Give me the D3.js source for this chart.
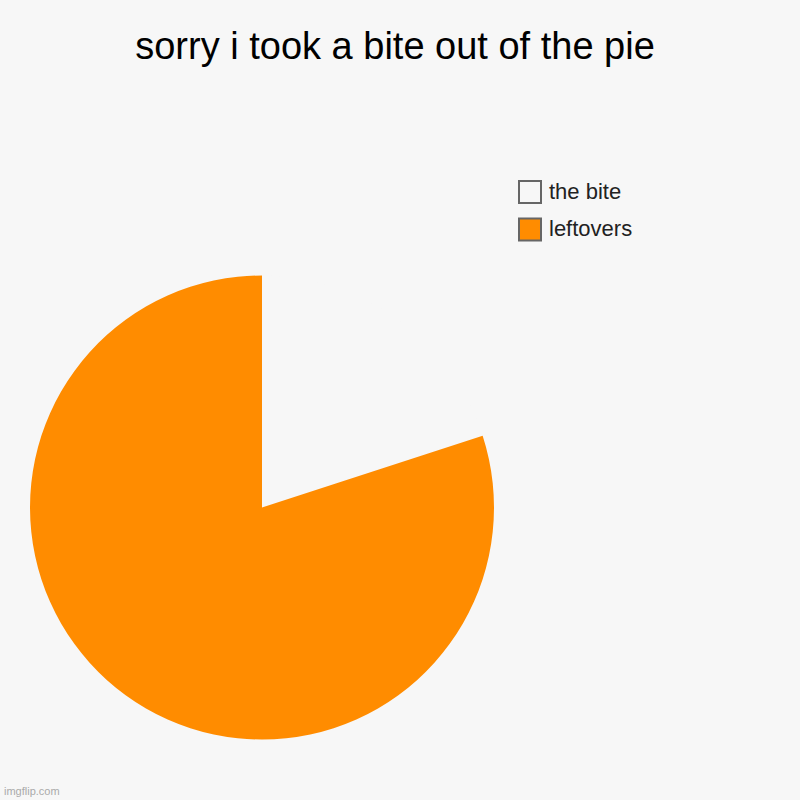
<!DOCTYPE html>
<html lang="en">
<head>
  <meta charset="UTF-8">
  <title>sorry i took a bite out of the pie</title>
  <style>
    body { margin: 0; background: #f7f7f7; }
    text { font-family: "Liberation Sans", Arial, sans-serif; }
  </style>
</head>
<body>
  <script src="https://d3js.org/d3.v7.min.js"></script>
  <script>
    // data
    const labels = ['the bite', 'leftovers'];
    const values = [20, 80];
    const colors = ['#f7f7f7', '#ff8c00'];
    const legendBorder = ['#666666', '#666666'];

    const svgWidth = 800, svgHeight = 800;
    const cx = 262, cy = 507.5, radius = 232;

    const svg = d3.select('body').append('svg')
      .attr('width', svgWidth)
      .attr('height', svgHeight)
      .style('display', 'block');

    svg.append('rect')
      .attr('width', svgWidth)
      .attr('height', svgHeight)
      .attr('fill', '#f7f7f7');

    // title
    svg.append('text')
      .attr('x', 395)
      .attr('y', 59)
      .attr('text-anchor', 'middle')
      .style('font-size', '38px')
      .attr('fill', '#000')
      .text('sorry i took a bite out of the pie');

    // pie, first slice starts at 12 o'clock and goes clockwise
    const pie = d3.pie().sort(null).value(d => d);
    const arc = d3.arc().innerRadius(0).outerRadius(radius);

    svg.append('g')
      .attr('transform', `translate(${cx},${cy})`)
      .selectAll('path')
      .data(pie(values))
      .join('path')
      .attr('d', arc)
      .attr('fill', (d, i) => colors[i]);

    // legend
    const legend = svg.append('g')
      .attr('transform', 'translate(519,181)');

    const item = legend.selectAll('g')
      .data(labels)
      .join('g')
      .attr('transform', (d, i) => `translate(0,${i * 37.5})`);

    item.append('rect')
      .attr('width', 22)
      .attr('height', 22)
      .attr('fill', (d, i) => i === 0 ? '#f7f7f7' : colors[i])
      .attr('stroke', (d, i) => legendBorder[i])
      .attr('stroke-width', 2);

    item.append('text')
      .attr('x', 30)
      .attr('y', 17.5)
      .style('font-size', '22px')
      .attr('fill', '#222')
      .text(d => d);

    // watermark
    svg.append('text')
      .attr('x', 4)
      .attr('y', 795)
      .style('font-size', '11px')
      .attr('fill', '#aaaaaa')
      .text('imgflip.com');
  </script>
</body>
</html>
